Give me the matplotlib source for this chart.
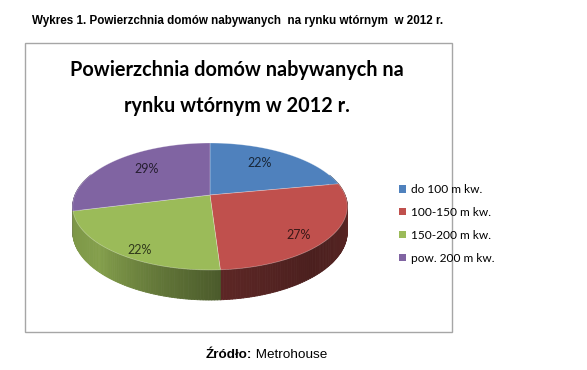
import numpy as np
import matplotlib
matplotlib.use('Agg')
import matplotlib.pyplot as plt
from matplotlib.patches import Rectangle, Patch, Polygon
from matplotlib.collections import PolyCollection
from matplotlib.colors import to_rgb

# data
categories = ['do 100 m kw.', '100-150 m kw.', '150-200 m kw.', 'pow. 200 m kw.']
shares = [22, 27, 22, 29]
colors = ['#4F81BD', '#C0504D', '#9BBB59', '#8064A2']

header = 'Wykres 1. Powierzchnia domów nabywanych  na rynku wtórnym  w 2012 r.'
title_lines = ['Powierzchnia domów nabywanych na', 'rynku wtórnym w 2012 r.']

W, H = 587, 370
fig = plt.figure(figsize=(W / 100, H / 100), dpi=100)
ax = fig.add_axes([0, 0, 1, 1])
ax.set_xlim(0, W)
ax.set_ylim(H, 0)
ax.axis('off')

# pie geometry (pixels), with a bit of perspective
cx, cy = 210, 195
rx, ry = 135, 61.4
persp = 0.181
depth = 24.6


def project(t_deg, r=1.0, dz=0.0):
    t = np.radians(t_deg)
    u = r * np.sin(t)
    v = -r * np.cos(t)
    k = 1.0 / (1 - persp * v)
    return cx + rx * u * k, cy + (ry * v + dz) * k


# side shading by angle (clockwise from 12 o'clock)
shade_t = [60, 90, 110, 140, 176, 200, 225, 255, 290, 300]
shade_f = [0.55, 0.56, 0.45, 0.39, 0.48, 0.65, 0.85, 0.8, 0.75, 0.75]

total = sum(shares)
bounds = np.concatenate([[0], np.cumsum(shares) / total * 360])

# side walls
quads, qcol, qv = [], [], []
step = 1.0
for i in range(len(shares)):
    a0, a1 = bounds[i], bounds[i + 1]
    ts = np.append(np.arange(a0, a1, step), a1)
    base = np.array(to_rgb(colors[i]))
    for ta, tb in zip(ts[:-1], ts[1:]):
        tm = (ta + tb) / 2
        vm = -np.cos(np.radians(tm))
        if vm < -0.35:
            continue
        p1 = project(ta)
        p2 = project(tb)
        p3 = project(tb, dz=depth)
        p4 = project(ta, dz=depth)
        quads.append([p1, p2, p3, p4])
        f = np.interp(tm, shade_t, shade_f)
        qcol.append(np.clip(base * f, 0, 1))
        qv.append(vm)

order = np.argsort(qv)
walls = PolyCollection([quads[j] for j in order],
                       facecolors=[qcol[j] for j in order],
                       edgecolors=[qcol[j] for j in order], linewidths=0.6)
ax.add_collection(walls)

# top faces
for i in range(len(shares)):
    a0, a1 = bounds[i], bounds[i + 1]
    ts = np.linspace(a0, a1, 120)
    xs, ys = project(ts)
    pts = np.column_stack([np.r_[cx, xs], np.r_[cy, ys]])
    ax.add_patch(Polygon(pts, closed=True, facecolor=colors[i],
                         edgecolor=(1, 1, 1, 0.35), linewidth=0.5))

# percent labels (pushed outwards at the front, like Excel's best fit)
for i, v in enumerate(shares):
    tm = (bounds[i] + bounds[i + 1]) / 2
    vm = -np.cos(np.radians(tm))
    lx, ly = project(tm, r=0.7 + 0.1 * vm, dz=10 * vm + 2)
    dark = np.array(to_rgb(colors[i])) * 0.3
    ax.text(lx, ly, f'{v}%', ha='center', va='center', fontsize=9,
            family='Lato', color=dark)

# chart frame
ax.add_patch(Rectangle((25, 43), 427, 289, fill=False,
                       edgecolor='#a6a6a6', linewidth=1))

ax.text(237, 70, title_lines[0], ha='center', va='center', fontsize=14.3,
        family='Lato', fontweight='bold')
ax.text(237, 106, title_lines[1], ha='center', va='center', fontsize=14.3,
        family='Lato', fontweight='bold')

ax.text(32, 21, header, ha='left', va='center', fontsize=8.4,
        family='Liberation Sans', fontweight='bold')

# legend
handles = [Patch(facecolor=c, edgecolor='none') for c in colors]
ax.legend(handles, categories, loc='upper left',
          bbox_to_anchor=(393, 178), bbox_transform=ax.transData,
          frameon=False, prop={'family': 'Lato', 'size': 8.6},
          handlelength=0.6, handleheight=0.6, handletextpad=0.4,
          labelspacing=1.0, borderpad=0)

# source
t1 = ax.text(206, 355, 'Źródło:', ha='left', va='center', fontsize=9.7,
             family='Liberation Sans', fontweight='bold')
ax.annotate(' Metrohouse', xy=(1, 0.5), xycoords=t1, ha='left', va='center',
            fontsize=9.7, family='Liberation Sans')

fig.savefig('out.png', dpi=100, facecolor='white')
